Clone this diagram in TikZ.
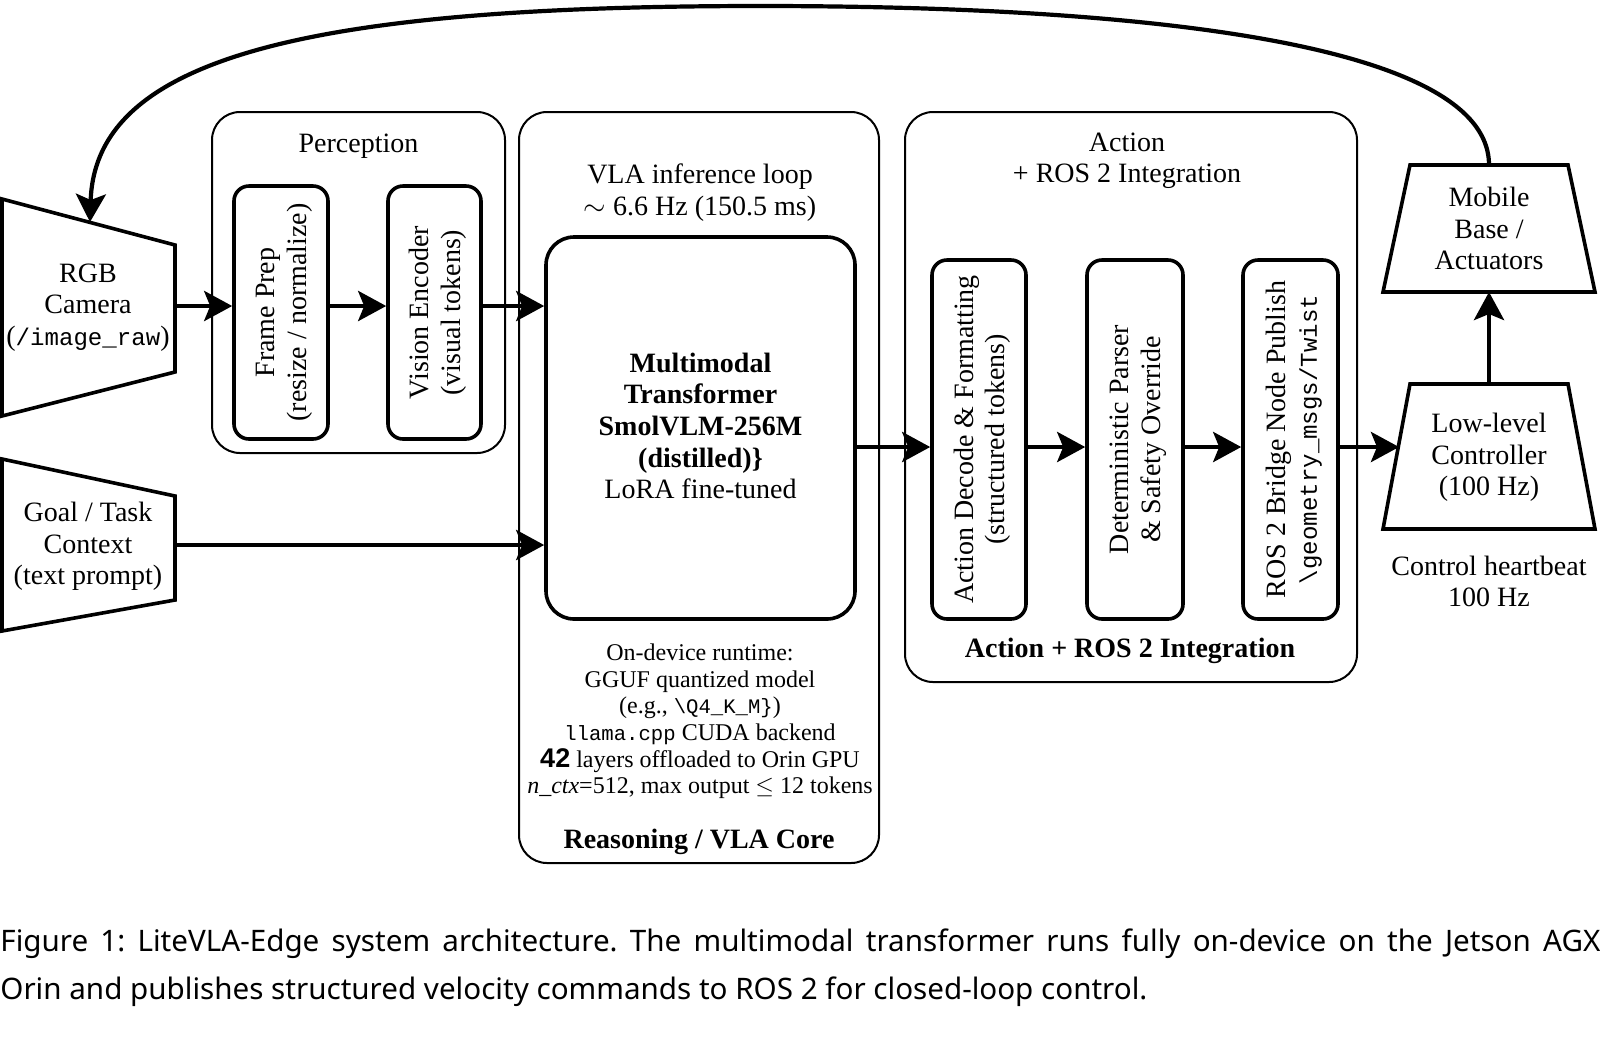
\documentclass[tikz,border=0pt]{standalone}
\usepackage{fontspec}
\setmainfont{Liberation Serif}
\setmonofont{Liberation Mono}[Scale=0.86]
\newfontfamily\capfont{Noto Sans}
\newfontfamily\numfont{Liberation Sans}
\usetikzlibrary{arrows.meta,calc}
\tikzset{
  grp/.style={draw, line width=1pt, rounded corners=14pt, inner sep=0pt},
  blk/.style={draw, line width=1.8pt, rounded corners=7.5pt, inner sep=0pt},
  core/.style={draw, line width=1.8pt, rounded corners=14pt, inner sep=0pt},
  arr/.style={line width=2.3pt, -{Stealth[length=14pt,width=15pt,inset=3pt]}},
  shp/.style={draw, line width=1.8pt, line join=miter},
  txt/.style={font=\fontsize{14}{15.8}\selectfont, align=center, inner sep=0pt, yshift=-1.3pt},
  rtxt/.style={font=\fontsize{14}{15.8}\selectfont, align=center, inner sep=0pt, xshift=1.7pt, rotate=90},
  sml/.style={font=\fontsize{12}{13.3}\selectfont, align=center, inner sep=0pt, yshift=-1pt},
}
\begin{document}
\begin{tikzpicture}[x=0.5pt,y=-0.5pt]
\useasboundingbox (0,0) rectangle (1600,1062);

% group boxes
\node[grp, minimum width=146.5pt, minimum height=170.5pt] (perc) at (358.5,282.5) {};
\node[grp, minimum width=180pt, minimum height=375.5pt] (coreg) at (699,487.5) {};
\node[grp, minimum width=226pt, minimum height=285pt] (act) at (1131,397) {};

% inner blocks
\node[blk, minimum width=47pt, minimum height=126.5pt] (fp) at (281,312.5) {};
\node[blk, minimum width=46.5pt, minimum height=126.5pt] (ve) at (434.5,312.5) {};
\node[core, minimum width=154.5pt, minimum height=191pt] (tf) at (700.5,428) {};
\node[blk, minimum width=47pt, minimum height=179.5pt] (ad) at (979,439.5) {};
\node[blk, minimum width=48pt, minimum height=179.5pt] (dp) at (1135,439.5) {};
\node[blk, minimum width=47.5pt, minimum height=179.5pt] (rb) at (1290.5,439.5) {};

% trapezoids
\draw[shp] (2,199) -- (175,245) -- (175,372) -- (2,416) -- cycle;
\draw[shp] (2,459) -- (175,496) -- (175,600) -- (2,631) -- cycle;
\draw[shp] (1410,384) -- (1568,384) -- (1595,529) -- (1383,529) -- cycle;
\draw[shp] (1410,165) -- (1568,165) -- (1595,292) -- (1383,292) -- cycle;

\node[txt] (cam) at (88,305) {RGB\\Camera\\(\texttt{/image\_raw})};
\node[txt] (goal) at (88,544) {Goal / Task\\Context\\(text prompt)};
\node[txt] (llc) at (1489,455) {Low-level\\Controller\\(100 Hz)};
\node[txt] (mob) at (1489,226) {Mobile\\Base /\\Actuators};
\node[txt] (hb) at (1489,579) {Control heartbeat\\100 Hz};

% group titles
\node[txt] (perct) at (358.5,144) {Perception};
\node[txt] (coret) at (700,190) {VLA inference loop\\$\sim$ 6.6 Hz (150.5 ms)};
\node[txt] (actt) at (1127,158) {Action\\+ ROS 2 Integration};
\node[txt, font=\fontsize{14}{15.8}\selectfont\bfseries] (actb) at (1130,648) {Action + ROS 2 Integration};
\node[txt, font=\fontsize{14}{15.8}\selectfont\bfseries] (coreb) at (699,839) {Reasoning / VLA Core};

% block texts
\node[rtxt] (fpt) at (fp) {Frame Prep\\(resize / normalize)};
\node[rtxt] (vet) at (ve) {Vision Encoder\\(visual tokens)};
\node[rtxt] (adt) at (ad) {Action Decode \& Formatting\\(structured tokens)};
\node[rtxt] (dpt) at (dp) {Deterministic Parser\\\& Safety Override};
\node[rtxt] (rbt) at (rb) {ROS 2 Bridge Node Publish\\\texttt{\textbackslash geometry\_msgs/Twist}};
\node[txt, yshift=1.3pt] (tft) at (700.5,426) {\textbf{Multimodal}\\\textbf{Transformer}\\\textbf{SmolVLM-256M}\\\textbf{(distilled)\}}\\LoRA fine-tuned};
\node[sml] (rt) at (700,719.5) {On-device runtime:\\GGUF quantized model\\(e.g., \texttt{\textbackslash Q4\_K\_M\}})\\\texttt{llama.cpp} CUDA backend\\{\numfont\bfseries\fontsize{13.5}{13.3}\selectfont 42} layers offloaded to Orin GPU\\\textit{n\_ctx}=512, max output $\leq$ 12 tokens};

% connectors
\coordinate (camE) at (175,306);
\coordinate (goalE) at (175,545);
\coordinate (rowA) at (0,447);
\coordinate (llcW) at (1399,447);
\coordinate (llcT) at (1489,384);
\coordinate (mobB) at (1489,292);
\coordinate (mobT) at (1489,165);
\coordinate (camT) at (90,222);

\draw[arr] (camE) -- (camE -| fp.west);
\draw[arr] (fp.east |- camE) -- (camE -| ve.west);
\draw[arr] (ve.east |- camE) -- (camE -| tf.west);
\draw[arr] (goalE) -- (goalE -| tf.west);
\draw[arr] (tf.east |- rowA) -- (rowA -| ad.west);
\draw[arr] (ad.east |- rowA) -- (rowA -| dp.west);
\draw[arr] (dp.east |- rowA) -- (rowA -| rb.west);
\draw[arr] (rb.east |- rowA) -- (llcW);
\draw[arr] (llcT) -- (mobB);
\draw[arr, line width=2.1pt] (mobT) .. controls (1489,20) and (1000,6) .. (760,6) .. controls (300,6) and (95,60) .. (camT);

% caption
\node[anchor=base west, inner sep=0pt] (cap) at (0,951) {\parbox[t]{800pt}{\frenchspacing\capfont\fontsize{14.8}{24}\selectfont Figure 1: LiteVLA-Edge system architecture. The multimodal transformer runs fully on-device on the Jetson AGX\linebreak Orin and publishes structured velocity commands to ROS 2 for closed-loop control.}};
\end{tikzpicture}
\end{document}
